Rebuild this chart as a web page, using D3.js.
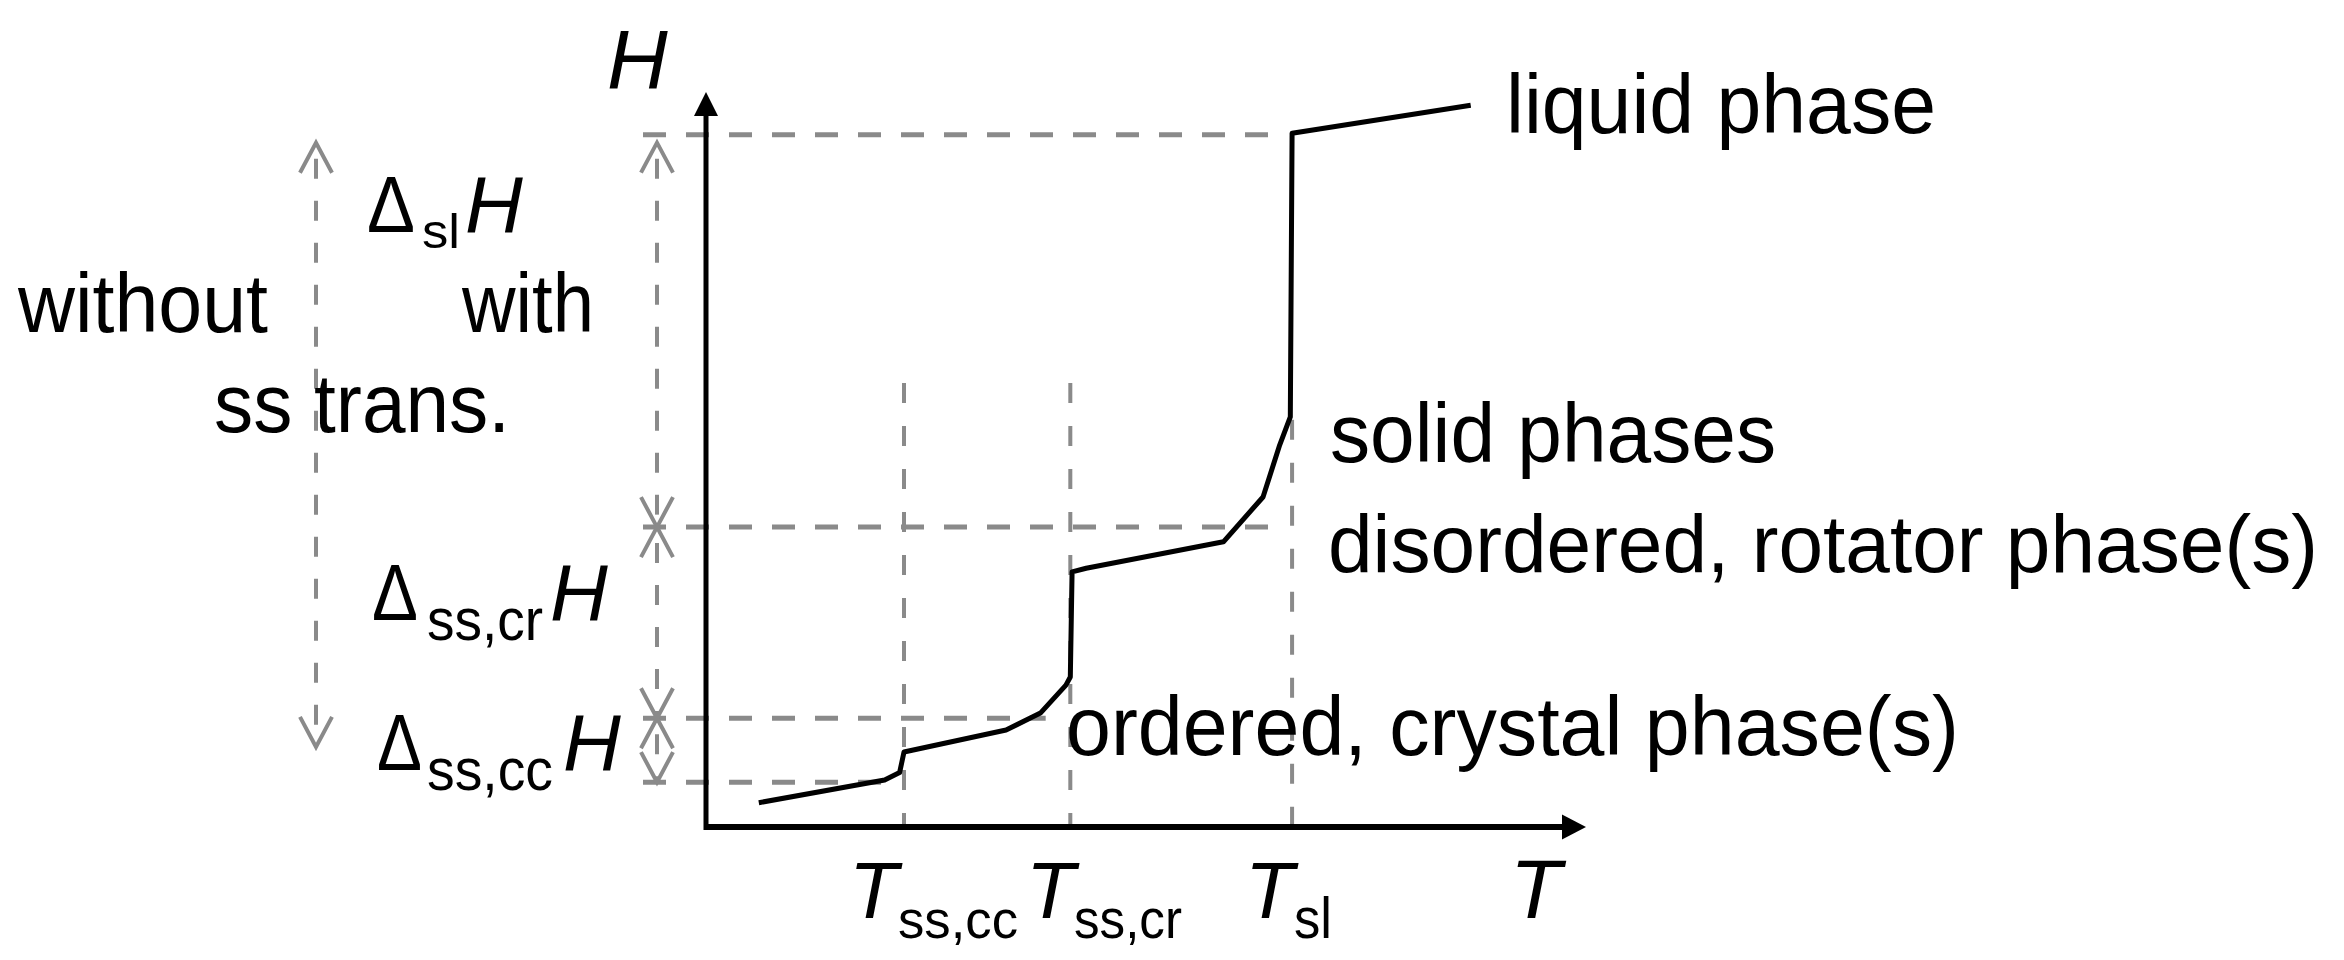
<!DOCTYPE html>
<html>
<head>
<meta charset="utf-8">
<script src="https://cdn.jsdelivr.net/npm/d3@7"></script>
<style>
  body { margin: 0; background: #fff; }
  svg { display: block; }
  text { font-family: "Liberation Sans", Arial, sans-serif; fill: #000; }
</style>
</head>
<body>
<svg id="chart" width="2344" height="960"></svg>
<script>
// ─── Data (schematic units, 0-100 on both axes) ──────────────────────────────
// enthalpy curve H(T)
const curveT = [6.0, 20.3, 22.0, 22.5, 34.1, 38.0, 40.9, 41.4, 41.6, 43.2, 58.8, 63.3, 65.2, 66.4, 66.6, 86.9];
const curveH = [3.3, 6.4, 7.4, 10.2, 13.2, 15.5, 19.3, 20.4, 34.7, 35.2, 38.8, 44.9, 52.0, 55.8, 94.4, 98.2];

// transition temperatures and how high their dashed guide reaches
const transitions = ['ss,cc', 'ss,cr', 'sl'];
const transitionT = [22.5, 41.4, 66.6];
const transitionTopH = [60.4, 60.4, 55.4];

// enthalpy levels with dashed guides, and the T where each guide stops
const levelH = [94.2, 40.8, 14.8, 6.1];
const levelEndT = [66.0, 64.4, 38.6, 21.0];

// enthalpy steps between successive levels (top to bottom)
const deltaNames = ['sl', 'ss,cr', 'ss,cc'];
// total span "without ss trans." (top, bottom)
const totalH = [93.1, 10.9];

const phaseLabels = ['liquid phase', 'solid phases', 'disordered, rotator phase(s)', 'ordered, crystal phase(s)'];
const sideLabels = ['without', 'with', 'ss trans.'];

// ─── Layout ──────────────────────────────────────────────────────────────────
const GRAY = '#8a8a8a';
const x = d3.scaleLinear().domain([0, 100]).range([706, 1586]);
const y = d3.scaleLinear().domain([0, 100]).range([827, 92]);

const guideStartX = 643;   // dashed level guides start left of the axis
const stepArrowX = 657;    // column of the ΔH arrows
const totalArrowX = 316;   // big "without" arrow

const svg = d3.select('#chart');
svg.append('rect').attr('width', 2344).attr('height', 960).attr('fill', '#fff');

// ─── Helpers ─────────────────────────────────────────────────────────────────
function addText(str, px, py, size, opts = {}) {
    const t = svg.append('text')
        .attr('x', px)
        .attr('y', py)
        .attr('font-size', size)
        .text(str);
    if (opts.italic) t.attr('font-style', 'italic');
    if (opts.width) t.attr('textLength', opts.width).attr('lengthAdjust', 'spacingAndGlyphs');
    return t;
}

// symbol with subscript, kept as one text element: parts = [{str, x, y, size, width, italic}]
function addSymbol(parts) {
    const t = svg.append('text');
    parts.forEach(p => {
        const s = t.append('tspan')
            .attr('x', p.x)
            .attr('y', p.y)
            .attr('font-size', p.size)
            .text(p.str);
        if (p.italic) s.attr('font-style', 'italic');
        if (p.width) s.attr('textLength', p.width).attr('lengthAdjust', 'spacingAndGlyphs');
    });
    return t;
}

function chevron(px, py, dir) {
    // open arrow head, dir = -1 points up, +1 points down
    const len = 30, half = 16;
    svg.append('path')
        .attr('d', `M${px - half},${py - dir * len}L${px},${py}L${px + half},${py - dir * len}`)
        .attr('fill', 'none')
        .attr('stroke', GRAY)
        .attr('stroke-width', 4);
}

function dashedArrow(px, yTop, yBottom) {
    svg.append('line')
        .attr('x1', px).attr('x2', px)
        .attr('y1', yTop + 2).attr('y2', yBottom - 2)
        .attr('stroke', GRAY)
        .attr('stroke-width', 4)
        .attr('stroke-dasharray', '20,22')
        .attr('stroke-dashoffset', -14);
    chevron(px, yTop, -1);
    chevron(px, yBottom, 1);
}

// ─── Dashed guides ───────────────────────────────────────────────────────────
levelH.forEach((h, i) => {
    svg.append('line')
        .attr('x1', guideStartX).attr('x2', x(levelEndT[i]))
        .attr('y1', y(h)).attr('y2', y(h))
        .attr('stroke', GRAY)
        .attr('stroke-width', 5)
        .attr('stroke-dasharray', '23,20');
});

transitionT.forEach((t, i) => {
    svg.append('line')
        .attr('x1', x(t)).attr('x2', x(t))
        .attr('y1', y(transitionTopH[i])).attr('y2', y(0))
        .attr('stroke', GRAY)
        .attr('stroke-width', 4)
        .attr('stroke-dasharray', '20,23');
});

// ΔH arrows between successive levels
deltaNames.forEach((d, i) => {
    const top = i === 0 ? y(levelH[i]) + 8 : y(levelH[i]);
    dashedArrow(stepArrowX, top, y(levelH[i + 1]));
});

// total enthalpy arrow (without ss transitions)
dashedArrow(totalArrowX, y(totalH[0]), y(totalH[1]));

// ─── Axes ────────────────────────────────────────────────────────────────────
svg.append('line')
    .attr('x1', x(0)).attr('x2', x(0))
    .attr('y1', y(0) + 3).attr('y2', y(100) + 20)
    .attr('stroke', '#000').attr('stroke-width', 5);
svg.append('path')
    .attr('d', `M${x(0) - 12},${y(100) + 24}L${x(0)},${y(100)}L${x(0) + 12},${y(100) + 24}Z`)
    .attr('fill', '#000');

svg.append('line')
    .attr('x1', x(0) - 2).attr('x2', x(100) - 20)
    .attr('y1', y(0)).attr('y2', y(0))
    .attr('stroke', '#000').attr('stroke-width', 6);
svg.append('path')
    .attr('d', `M${x(100) - 24},${y(0) - 12.5}L${x(100)},${y(0)}L${x(100) - 24},${y(0) + 12.5}Z`)
    .attr('fill', '#000');

// ─── Enthalpy curve ──────────────────────────────────────────────────────────
const line = d3.line()
    .x(d => x(d[0]))
    .y(d => y(d[1]));

svg.append('path')
    .datum(d3.zip(curveT, curveH))
    .attr('d', line)
    .attr('fill', 'none')
    .attr('stroke', '#000')
    .attr('stroke-width', 5)
    .attr('stroke-linejoin', 'round');

// ─── Axis titles & tick labels ───────────────────────────────────────────────
addText('H', 607, 89, 84, { italic: true });
addText('T', 1510, 918, 84, { italic: true });

// tick label layout: [T x, subscript x, subscript width, subscript size]
const tickLayout = [[849, 898, 120, 54], [1026, 1074, 108, 56], [1245, 1294, 38, 58]];
transitions.forEach((name, i) => {
    const [tx, sx, sw, ss] = tickLayout[i];
    addSymbol([
        { str: 'T', x: tx, y: 918, size: 80, italic: true },
        { str: name, x: sx, y: 938, size: ss, width: sw }
    ]);
});

// ─── ΔH labels ───────────────────────────────────────────────────────────────
// [Δ x, baseline, Δ width, sub x, sub baseline, sub width, sub size, H x]
const deltaLayout = [
    [367, 232, 48, 422, 248, 38, 48, 465],
    [372, 620, 46, 427, 640, 116, 60, 550],
    [377, 770, 45, 427, 790, 126, 60, 563]
];
deltaNames.forEach((name, i) => {
    const [dx, base, dw, sx, sb, sw, ss, hx] = deltaLayout[i];
    addSymbol([
        { str: '\u0394', x: dx, y: base, size: 80, width: dw },
        { str: name, x: sx, y: sb, size: ss, width: sw },
        { str: 'H', x: hx, y: base, size: 80, italic: true }
    ]);
});

// ─── Side and phase labels ───────────────────────────────────────────────────
const sideLayout = [[18, 332, 250], [462, 332, 132], [214, 432, 296]];
sideLabels.forEach((s, i) => addText(s, sideLayout[i][0], sideLayout[i][1], 84, { width: sideLayout[i][2] }));

const phaseLayout = [[1506, 133, 430, 84], [1330, 462, 446, 84], [1328, 572, 990, 81], [1066, 755, 893, 84]];
phaseLabels.forEach((s, i) => addText(s, phaseLayout[i][0], phaseLayout[i][1], phaseLayout[i][3], { width: phaseLayout[i][2] }));
</script>
</body>
</html>
